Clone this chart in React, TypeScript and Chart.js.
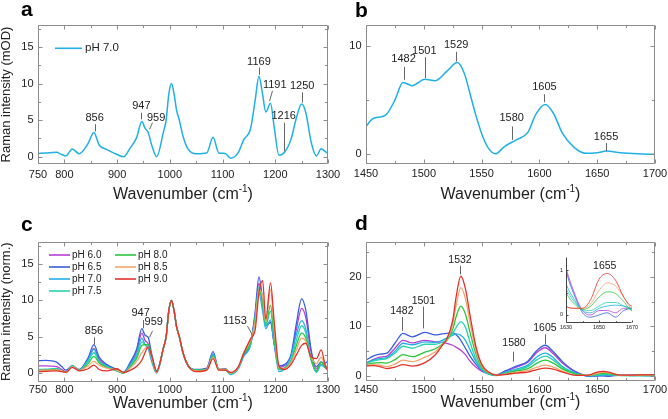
import React, { useEffect, useRef } from 'react';
import { Chart, registerables } from 'chart.js';
Chart.register(...registerables);

const FONT = 'Arial, "Liberation Sans", Helvetica, sans-serif';

// ---------- Panel a / c : 750-1300 cm-1 ----------
const wavenumberLow = [750, 765, 785, 795, 803, 815, 828, 845, 856, 866, 880, 900, 912, 925, 937, 947, 953, 959, 966, 975, 988, 993, 998, 1003, 1008, 1013, 1018, 1025, 1035, 1050, 1070, 1082, 1093, 1105, 1115, 1130, 1140, 1153, 1162, 1169, 1176, 1182, 1191, 1198, 1207, 1218, 1230, 1240, 1250, 1258, 1268, 1278, 1287, 1295, 1300];

const low_pH70 = [0.45, 0.5, 0.6, 0.3, 0.1, 1.05, 0.4, 1.8, 3.3, 1.6, 1.0, 0.3, 0.0, 1.2, 2.6, 4.8, 3.9, 3.3, 1.5, 0.0, 3.4, 5.0, 8.5, 10.0, 8.6, 6.3, 5.0, 2.8, 1.0, 0.4, 0.5, 2.65, 0.5, 0.45, -0.2, 0.6, 2.3, 3.8, 7.8, 11.0, 8.5, 6.1, 7.3, 4.0, 0.2, 0.65, 2.4, 5.3, 7.2, 6.0, 2.0, 0.1, 1.1, 0.7, 0.45];
const low_pH60 = [1.0, 1.0, 0.9, 0.5, 0.2, 1.0, 0.4, 1.9, 3.4, 1.9, 1.0, 0.4, 0.1, 1.3, 3.0, 5.5, 4.5, 4.0, 2.2, 0.2, 3.5, 5.0, 8.5, 10.0, 8.6, 6.3, 5.0, 2.8, 1.0, 0.4, 0.6, 2.5, 0.5, 0.5, 0.0, 0.7, 2.4, 3.9, 8.0, 12.3, 9.5, 6.5, 7.0, 4.0, 0.8, 1.0, 2.4, 6.0, 8.9, 7.6, 2.8, 0.6, 1.5, 1.0, 0.8];
const low_pH65 = [1.7, 1.75, 1.5, 0.9, 0.4, 1.0, 0.5, 2.1, 3.9, 2.2, 1.2, 0.5, 0.1, 1.5, 3.3, 6.1, 5.2, 4.9, 2.5, 0.3, 3.5, 5.0, 8.5, 10.0, 8.6, 6.3, 5.0, 2.8, 1.0, 0.5, 0.7, 2.95, 0.5, 0.6, 0.0, 0.8, 2.5, 4.0, 8.5, 13.2, 10.0, 6.5, 7.0, 4.0, 1.0, 1.2, 2.6, 6.8, 10.2, 8.6, 3.2, 0.9, 1.5, 1.4, 1.7];
const low_pH75 = [0.5, 0.5, 0.6, 0.3, 0.1, 1.0, 0.4, 1.6, 2.8, 1.6, 0.9, 0.3, 0.0, 1.0, 2.3, 4.3, 3.9, 3.8, 2.0, 0.1, 3.5, 5.0, 8.5, 10.0, 8.6, 6.3, 5.0, 2.8, 1.0, 0.4, 0.5, 2.4, 0.5, 0.45, -0.1, 0.7, 2.6, 4.0, 7.5, 11.8, 9.5, 6.5, 8.5, 4.5, 0.5, 0.7, 1.8, 4.5, 6.5, 5.5, 1.9, 0.2, 1.2, 0.8, 0.4];
const low_pH80 = [0.4, 0.45, 0.5, 0.3, 0.1, 0.9, 0.35, 1.3, 2.3, 1.4, 0.8, 0.35, 0.0, 0.9, 2.0, 3.8, 3.9, 3.9, 2.1, 0.1, 3.5, 5.0, 8.5, 10.0, 8.6, 6.3, 5.0, 2.8, 1.0, 0.4, 0.5, 2.3, 0.5, 0.5, 0.0, 0.8, 2.7, 4.2, 7.3, 11.5, 9.8, 6.8, 9.3, 5.0, 0.6, 0.7, 1.6, 3.8, 5.5, 4.8, 1.8, 0.3, 1.5, 0.8, 0.4];
const low_pH85 = [0.35, 0.4, 0.45, 0.3, 0.1, 0.9, 0.35, 1.0, 1.6, 1.1, 0.7, 0.4, 0.05, 0.7, 1.6, 2.8, 3.4, 3.6, 2.1, 0.1, 3.5, 5.0, 8.5, 10.0, 8.6, 6.3, 5.0, 2.8, 1.0, 0.3, 0.5, 2.2, 0.5, 0.5, 0.0, 0.8, 2.8, 4.5, 7.0, 11.5, 10.5, 7.0, 11.5, 6.0, 0.8, 0.6, 1.5, 3.2, 4.8, 4.4, 2.2, 1.3, 2.2, 1.0, 0.4];
const low_pH90 = [0.2, 0.25, 0.3, 0.2, 0.1, 0.8, 0.3, 0.6, 1.1, 0.5, 0.3, 0.6, 0.1, 0.4, 0.9, 1.8, 2.8, 3.6, 2.3, 0.2, 3.5, 5.0, 8.5, 10.0, 8.6, 6.3, 5.0, 2.8, 1.0, 0.2, 0.4, 2.0, 0.4, 0.4, 0.1, 0.9, 2.7, 4.7, 6.0, 11.0, 12.7, 7.4, 12.4, 7.0, 1.0, 0.5, 1.2, 2.5, 3.8, 4.1, 2.2, 2.0, 3.2, 1.0, 0.3];

// ---------- Panel b : 1450-1700 cm-1, pH 7.0 ----------
const wavenumberB = [1450, 1455, 1460, 1467, 1475, 1482, 1490, 1501, 1510, 1520, 1529, 1535, 1540, 1545, 1550, 1556, 1562, 1570, 1580, 1590, 1597, 1605, 1612, 1620, 1630, 1640, 1650, 1658, 1670, 1685, 1700];
const intensityB = [2.55, 3.2, 3.4, 3.6, 5.0, 6.65, 6.35, 6.95, 6.8, 7.7, 8.5, 7.5, 5.6, 3.6, 1.9, 0.5, 0.0, 0.7, 1.3, 2.0, 3.7, 4.6, 3.8, 1.9, 0.6, 0.05, 0.1, 0.25, 0.1, 0.0, -0.05];

// ---------- Panel d : 1450-1700 cm-1 ----------
const wavenumberHigh = [1450, 1456, 1462, 1468, 1475, 1482, 1490, 1501, 1510, 1516, 1520, 1525, 1528, 1532, 1536, 1540, 1545, 1550, 1556, 1563, 1570, 1580, 1590, 1598, 1605, 1612, 1620, 1630, 1635, 1640, 1645, 1650, 1655, 1660, 1665, 1670, 1680, 1690, 1700];
const high_pH60 = [2.6, 3.3, 3.8, 4.0, 5.6, 7.2, 6.7, 7.2, 6.9, 6.8, 6.6, 6.2, 5.8, 5.2, 4.3, 3.0, 1.8, 1.0, 0.5, 0.3, 0.9, 1.8, 2.8, 4.8, 5.7, 4.5, 2.6, 1.05, 0.5, 0.1, 0.0, 0.1, 0.1, 0.05, 0.15, 0.15, 0.2, 0.2, 0.2];
const high_pH65 = [3.2, 4.0, 4.4, 4.6, 6.6, 8.6, 7.9, 8.8, 8.3, 8.5, 8.6, 8.7, 8.3, 7.2, 5.6, 4.0, 2.4, 1.2, 0.6, 0.2, 1.0, 2.0, 3.0, 5.2, 6.2, 4.9, 2.9, 1.0, 0.45, 0.05, -0.05, 0.0, 0.05, -0.05, 0.1, 0.15, 0.2, 0.2, 0.2];
const high_pH70 = [2.6, 3.2, 3.5, 3.7, 5.0, 6.6, 6.3, 6.9, 6.8, 7.2, 7.7, 8.2, 8.5, 8.2, 7.2, 5.3, 3.0, 1.3, 0.4, 0.1, 0.7, 1.4, 2.2, 3.9, 4.6, 3.7, 1.9, 0.7, 0.35, 0.1, 0.05, 0.15, 0.2, 0.22, 0.2, 0.15, 0.1, 0.05, 0.0];
const high_pH75 = [2.5, 3.0, 3.3, 3.5, 4.6, 6.0, 5.6, 6.4, 6.4, 6.8, 7.3, 8.6, 9.8, 10.9, 9.8, 6.8, 3.5, 1.5, 0.5, 0.15, 0.6, 1.2, 1.9, 3.3, 4.0, 3.2, 1.7, 0.6, 0.3, 0.12, 0.1, 0.2, 0.28, 0.28, 0.2, 0.12, 0.1, 0.1, 0.1];
const high_pH80 = [2.3, 2.6, 2.7, 2.6, 3.3, 4.3, 3.9, 4.8, 5.5, 6.4, 7.2, 9.4, 12.0, 14.1, 12.5, 8.8, 4.5, 1.8, 0.6, 0.2, 0.5, 1.0, 1.5, 2.6, 3.2, 2.6, 1.4, 0.5, 0.25, 0.12, 0.2, 0.4, 0.52, 0.48, 0.3, 0.1, 0.1, 0.15, 0.2];
const high_pH85 = [2.1, 2.3, 2.2, 1.9, 2.4, 3.2, 2.9, 3.8, 4.9, 6.3, 7.3, 10.4, 14.3, 17.8, 15.6, 10.8, 5.3, 2.1, 0.7, 0.2, 0.4, 0.8, 1.1, 1.8, 2.2, 1.8, 1.0, 0.2, 0.15, 0.15, 0.25, 0.55, 0.72, 0.65, 0.4, 0.15, 0.15, 0.2, 0.25];
const high_pH90 = [2.0, 2.1, 1.9, 1.5, 1.8, 2.3, 2.0, 2.7, 4.3, 6.2, 7.5, 11.2, 16.0, 20.1, 17.6, 12.2, 6.0, 2.4, 0.8, 0.2, 0.3, 0.6, 0.8, 1.3, 1.6, 1.4, 0.8, 0.2, 0.15, 0.15, 0.35, 0.8, 0.93, 0.78, 0.4, 0.2, 0.2, 0.25, 0.3];

const pHLabels = ['pH 6.0', 'pH 6.5', 'pH 7.0', 'pH 7.5', 'pH 8.0', 'pH 8.5', 'pH 9.0'];
const pHColors = ['#b93fd8', '#3a5ee0', '#1fb0e6', '#25d4b0', '#2cc63c', '#f3a46c', '#e3322b'];
const lowSeries = [low_pH60, low_pH65, low_pH70, low_pH75, low_pH80, low_pH85, low_pH90];
const highSeries = [high_pH60, high_pH65, high_pH70, high_pH75, high_pH80, high_pH85, high_pH90];
const singleColor = '#1fb0e6';

// tick labels
const xLabelsLow = [750, 800, 900, 1000, 1100, 1200, 1300];
const xLabelsHigh = [1450, 1500, 1550, 1600, 1650, 1700];
const yLabelsA = [0, 5, 10, 15];
const yLabelsB = [0, 10];
const yLabelsC = [0, 5, 10, 15];
const yLabelsD = [0, 10, 20];
const xLabelsInset = [1630, 1650, 1670];
const yLabelsInset = [0, 1];

// peak annotations: [label, textX, textY, lineX1, lineY1, lineX2, lineY2] (data units)
type Ann = (string | number)[];
const peaksA: Ann[] = [
  ['856', 857.5, 5.25, 857.5, 4.45, 857.5, 3.45],
  ['947', 946, 6.95, 946, 6.0, 946, 5.1],
  ['959', 974, 5.25, 967, 4.65, 961, 3.75],
  ['1169', 1169, 13.0, 1169, 12.2, 1169, 11.2],
  ['1191', 1199, 9.8, 1193, 9.0, 1189, 7.6],
  ['1216', 1216, 5.5, 1216, 4.65, 1216, 0.75],
  ['1250', 1251, 9.7, 1251, 8.8, 1251, 7.4],
];
const peaksB: Ann[] = [
  ['1482', 1482.5, 8.8, 1482.5, 8.1, 1482.5, 6.9],
  ['1501', 1500.4, 9.6, 1500.7, 9.0, 1500.7, 7.05],
  ['1529', 1528, 10.15, 1528, 9.5, 1528, 8.6],
  ['1580', 1576, 3.3, 1576, 2.55, 1576, 1.3],
  ['1605', 1604.4, 6.2, 1604.4, 5.55, 1604.4, 4.8],
  ['1655', 1657.7, 1.6, 1657.7, 1.0, 1657.7, 0.25],
];
const peaksC: Ann[] = [
  ['856', 856.2, 5.8, 857, 4.9, 857, 3.95],
  ['947', 944.7, 8.2, 949, 7.3, 949, 6.15],
  ['959', 969.5, 7.0, 966.3, 5.8, 961.2, 4.9],
  ['1153', 1123.5, 7.1, 1146, 6.45, 1155.5, 5.2],
];
const peaksD: Ann[] = [
  ['1482', 1481, 13.1, 1481, 11.9, 1481, 9.1],
  ['1501', 1499.6, 15.0, 1499.6, 14.0, 1499.6, 9.6],
  ['1532', 1531.3, 23.4, 1531.3, 22.2, 1531.3, 20.5],
  ['1580', 1578, 6.6, 1577.5, 4.9, 1577.5, 2.9],
  ['1605', 1604.8, 9.6, 1604.8, 8.4, 1604.8, 6.4],
];
const peaksInset: Ann[] = [['1655', 1653.5, 1.09]];

interface Series { label: string; color: string; wn: number[]; vals: number[] }
interface LegendCfg { cols: number[]; rowY: number; rowDy: number; perCol: number; lineLen: number; textDx: number; font: number }
interface PanelCfg {
  series: Series[];
  xMin: number; xMax: number; xTick: number; xLabels: number[];
  yMin: number; yMax: number; yTick: number; yLabels: number[];
  pad: { left: number; right: number; top: number; bottom: number };
  inset?: boolean;
  letter?: [string, number, number];
  yTitle?: string; yTitleX?: number;
  xTitleDy?: number; xTitleFont?: number;
  xLabelDy: number; yLabelDx: number; tickFont: number; tickLen: number;
  ann: Ann[]; annFont: number;
  legend?: LegendCfg;
  lineWidth: number;
}

function decor(cfg: PanelCfg) {
  return {
    id: 'decor',
    afterDraw(chart: any) {
      const ctx: CanvasRenderingContext2D = chart.ctx;
      const ca = chart.chartArea;
      const xs = chart.scales.x;
      const ys = chart.scales.y;
      const px = (v: number) => xs.getPixelForValue(v);
      const py = (v: number) => ys.getPixelForValue(v);
      ctx.save();
      const L = Math.round(ca.left) + 0.5, R = Math.round(ca.right) - 0.5;
      const T = Math.round(ca.top) + 0.5, B = Math.round(ca.bottom) - 0.5;
      ctx.lineWidth = 1;
      ctx.strokeStyle = cfg.inset ? '#444' : '#8c8c8c';
      ctx.beginPath();
      if (cfg.inset) { ctx.moveTo(L, T); ctx.lineTo(L, B); ctx.lineTo(R, B); }
      else ctx.rect(L, T, R - L, B - T);
      ctx.stroke();
      const isLab = (arr: number[], v: number) => arr.some(a => Math.abs(a - v) < 1e-6);
      ctx.beginPath();
      for (let i = Math.ceil(cfg.xMin / cfg.xTick - 1e-9); i <= Math.floor(cfg.xMax / cfg.xTick + 1e-9); i++) {
        const v = i * cfg.xTick; const p = Math.round(px(v)) + 0.5;
        const len = isLab(cfg.xLabels, v) ? cfg.tickLen : cfg.tickLen * 0.65;
        ctx.moveTo(p, B); ctx.lineTo(p, B - len);
        if (!cfg.inset) { ctx.moveTo(p, T); ctx.lineTo(p, T + len); }
      }
      for (let i = Math.ceil(cfg.yMin / cfg.yTick - 1e-9); i <= Math.floor(cfg.yMax / cfg.yTick + 1e-9); i++) {
        const v = i * cfg.yTick; const p = Math.round(py(v)) + 0.5;
        const len = isLab(cfg.yLabels, v) ? cfg.tickLen : cfg.tickLen * 0.65;
        ctx.moveTo(L, p); ctx.lineTo(L + len, p);
        if (!cfg.inset) { ctx.moveTo(R, p); ctx.lineTo(R - len, p); }
      }
      ctx.stroke();
      ctx.fillStyle = '#222';
      ctx.font = `${cfg.tickFont}px ${FONT}`;
      ctx.textAlign = 'center'; ctx.textBaseline = 'middle';
      cfg.xLabels.forEach(v => ctx.fillText(String(v), px(v), ca.bottom + cfg.xLabelDy));
      ctx.textAlign = 'right';
      cfg.yLabels.forEach(v => ctx.fillText(String(v), ca.left - cfg.yLabelDx, py(v)));
      // x title with superscript
      if (cfg.xTitleDy) {
        const fs = cfg.xTitleFont || 16;
        const f1 = `${fs}px ${FONT}`, f2 = `${Math.round(fs * 0.62)}px ${FONT}`;
        const s1 = 'Wavenumber (cm', s2 = '-1', s3 = ')';
        ctx.font = f1; const w1 = ctx.measureText(s1).width; const w3 = ctx.measureText(s3).width;
        ctx.font = f2; const w2 = ctx.measureText(s2).width;
        let x = (ca.left + ca.right) / 2 - (w1 + w2 + w3) / 2;
        const y = ca.bottom + cfg.xTitleDy;
        ctx.textAlign = 'left'; ctx.textBaseline = 'alphabetic';
        ctx.font = f1; ctx.fillText(s1, x, y); x += w1;
        ctx.font = f2; ctx.fillText(s2, x, y - fs * 0.42); x += w2;
        ctx.font = f1; ctx.fillText(s3, x, y);
      }
      if (cfg.yTitle) {
        ctx.save();
        ctx.translate(cfg.yTitleX || 10, (ca.top + ca.bottom) / 2);
        ctx.rotate(-Math.PI / 2);
        ctx.font = `13px ${FONT}`;
        ctx.textAlign = 'center'; ctx.textBaseline = 'alphabetic';
        ctx.fillText(cfg.yTitle, 0, 0);
        ctx.restore();
      }
      // annotations
      ctx.font = `${cfg.annFont}px ${FONT}`;
      ctx.textAlign = 'center'; ctx.textBaseline = 'middle';
      ctx.strokeStyle = '#666'; ctx.lineWidth = 1;
      cfg.ann.forEach(a => {
        const [t, tx, ty, x1, y1, x2, y2] = a as [string, number, number, number?, number?, number?, number?];
        if (x1 !== undefined) {
          ctx.beginPath();
          ctx.moveTo(Math.round(px(x1)) + 0.5, py(y1 as number));
          ctx.lineTo(Math.round(px(x2 as number)) + 0.5, py(y2 as number));
          ctx.stroke();
        }
        ctx.fillStyle = '#222';
        ctx.fillText(t, px(tx), py(ty));
      });
      // legend
      if (cfg.legend) {
        const lg = cfg.legend;
        ctx.font = `${lg.font}px ${FONT}`;
        ctx.textAlign = 'left'; ctx.textBaseline = 'middle';
        cfg.series.forEach((s, i) => {
          const col = Math.floor(i / lg.perCol), row = i % lg.perCol;
          const x0 = ca.left + lg.cols[col];
          const y = ca.top + lg.rowY + row * lg.rowDy;
          ctx.strokeStyle = s.color; ctx.lineWidth = 1.6;
          ctx.beginPath(); ctx.moveTo(x0, y); ctx.lineTo(x0 + lg.lineLen, y); ctx.stroke();
          ctx.fillStyle = '#222';
          ctx.fillText(s.label, x0 + lg.textDx, y);
        });
      }
      if (cfg.letter) {
        ctx.font = `bold 21px ${FONT}`;
        ctx.fillStyle = '#000'; ctx.textAlign = 'left'; ctx.textBaseline = 'alphabetic';
        ctx.fillText(cfg.letter[0], cfg.letter[1], cfg.letter[2]);
      }
      ctx.restore();
    },
  };
}

function buildConfig(cfg: PanelCfg): any {
  const n = cfg.series.length;
  return {
    type: 'line',
    data: {
      datasets: cfg.series.map((s, i) => ({
        label: s.label,
        data: s.wn.map((w, j) => ({ x: w, y: s.vals[j] })),
        borderColor: s.color,
        borderWidth: cfg.lineWidth,
        pointRadius: 0,
        fill: false,
        cubicInterpolationMode: 'monotone',
        order: n - 1 - i,
      })),
    },
    options: {
      animation: false,
      responsive: false,
      events: [],
      layout: { padding: cfg.pad },
      scales: {
        x: { type: 'linear', display: false, min: cfg.xMin, max: cfg.xMax },
        y: { type: 'linear', display: false, min: cfg.yMin, max: cfg.yMax },
      },
      plugins: { legend: { display: false }, tooltip: { enabled: false } },
    },
    plugins: [decor(cfg)],
  };
}

const W = 668, H = 419;
const multiLow: Series[] = pHLabels.map((l, i) => ({ label: l, color: pHColors[i], wn: wavenumberLow, vals: lowSeries[i] }));
const multiHigh: Series[] = pHLabels.map((l, i) => ({ label: l, color: pHColors[i], wn: wavenumberHigh, vals: highSeries[i] }));

const panels: PanelCfg[] = [
  {
    series: [{ label: 'pH 7.0', color: singleColor, wn: wavenumberLow, vals: low_pH70 }],
    xMin: 750, xMax: 1300, xTick: 50, xLabels: xLabelsLow,
    yMin: -1, yMax: 18, yTick: 2.5, yLabels: yLabelsA,
    pad: { left: 38, right: W - 328, top: 25, bottom: H - 164 },
    letter: ['a', 21, 15.5], yTitle: 'Raman intensity (mOD)', yTitleX: 10,
    xTitleDy: 34.5, xLabelDy: 10.5, yLabelDx: 4.5, tickFont: 11, tickLen: 4,
    ann: peaksA, annFont: 11,
    legend: { cols: [17], rowY: 23.3, rowDy: 12, perCol: 4, lineLen: 27, textDx: 30, font: 11.5 },
    lineWidth: 1.5,
  },
  {
    series: [{ label: 'pH 7.0', color: singleColor, wn: wavenumberB, vals: intensityB }],
    xMin: 1450, xMax: 1700, xTick: 25, xLabels: xLabelsHigh,
    yMin: -0.95, yMax: 12, yTick: 5, yLabels: yLabelsB,
    pad: { left: 366, right: W - 655, top: 25, bottom: H - 164 },
    letter: ['b', 355, 16.5],
    xTitleDy: 34.5, xLabelDy: 10, yLabelDx: 4.5, tickFont: 11, tickLen: 4,
    ann: peaksB, annFont: 11,
    lineWidth: 1.5,
  },
  {
    series: multiLow,
    xMin: 750, xMax: 1300, xTick: 50, xLabels: xLabelsLow,
    yMin: -1.15, yMax: 18, yTick: 2.5, yLabels: yLabelsC,
    pad: { left: 38, right: W - 328, top: 242, bottom: H - 381.5 },
    letter: ['c', 21, 230.5], yTitle: 'Raman intensity (norm.)', yTitleX: 10,
    xTitleDy: 26, xLabelDy: 8.5, yLabelDx: 4.5, tickFont: 11, tickLen: 4,
    ann: peaksC, annFont: 11,
    legend: { cols: [11, 77], rowY: 13, rowDy: 12, perCol: 4, lineLen: 21, textDx: 23, font: 10 },
    lineWidth: 1.3,
  },
  {
    series: multiHigh,
    xMin: 1450, xMax: 1700, xTick: 25, xLabels: xLabelsHigh,
    yMin: -1, yMax: 27, yTick: 5, yLabels: yLabelsD,
    pad: { left: 366, right: W - 655, top: 242, bottom: H - 381 },
    letter: ['d', 355, 229.5],
    xTitleDy: 26, xLabelDy: 9, yLabelDx: 4.5, tickFont: 11, tickLen: 4,
    ann: peaksD, annFont: 10.5,
    lineWidth: 1.3,
  },
  {
    series: multiHigh,
    xMin: 1630, xMax: 1670, xTick: 10, xLabels: xLabelsInset,
    yMin: -0.18, yMax: 1.3, yTick: 0.5, yLabels: yLabelsInset,
    pad: { left: 566, right: W - 632, top: 257, bottom: H - 323 },
    inset: true,
    xLabelDy: 4.5, yLabelDx: 3, tickFont: 5.5, tickLen: 2,
    ann: peaksInset, annFont: 10.5,
    lineWidth: 0.8,
  },
];

function Panel({ cfg }: { cfg: PanelCfg }) {
  const ref = useRef<HTMLCanvasElement>(null);
  useEffect(() => {
    const chart = new Chart(ref.current as HTMLCanvasElement, buildConfig(cfg));
    return () => chart.destroy();
  }, [cfg]);
  return <canvas ref={ref} width={W} height={H} style={{ position: 'absolute', left: 0, top: 0, width: W, height: H }} />;
}

export default function App() {
  return (
    <div style={{ position: 'fixed', left: 0, top: 0, width: W, height: H, background: '#fff', overflow: 'hidden' }}>
      {panels.map((p, i) => <Panel key={i} cfg={p} />)}
    </div>
  );
}
